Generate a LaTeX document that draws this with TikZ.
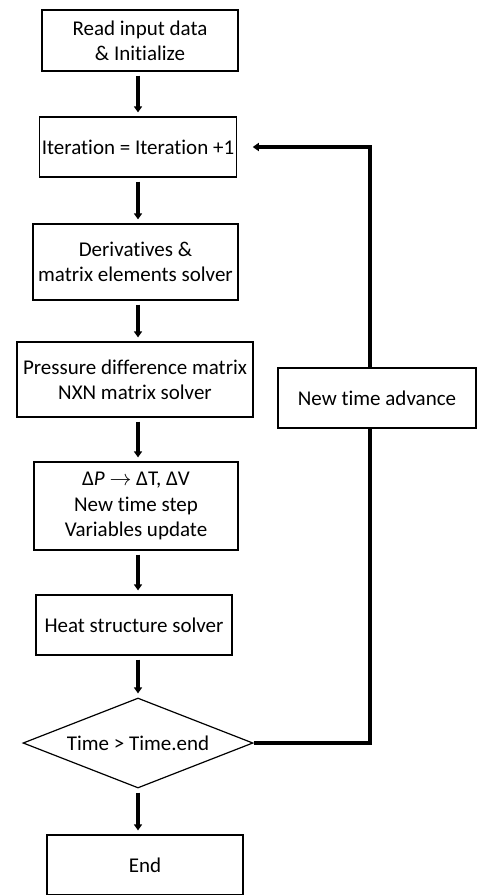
\documentclass[tikz,border=0pt]{standalone}
\usepackage{amsmath}
\usepackage{fontspec}
\setmainfont{Carlito}[Ligatures=NoCommon]
\usetikzlibrary{shapes.geometric,arrows.meta}

\begin{document}
\begin{tikzpicture}[x=0.5pt,y=-0.5pt,
  box/.style={draw,line width=0.6pt,align=center,inner sep=1pt,font=\fontsize{10.5}{12.6}\selectfont},
  decision/.style={draw,diamond,line width=0.6pt,inner sep=0pt,aspect=2.55,font=\fontsize{10.5}{12.6}\selectfont},
  flow/.style={line width=1.6pt,-{Triangle[length=3pt,width=4pt]},shorten <=2pt,shorten >=2pt},
  back/.style={line width=1.6pt}]
  \useasboundingbox (0,0) rectangle (481,895);
  \coordinate (spine) at (138,0);
  \coordinate (turn) at (370,0);
  \node[box,minimum width=98pt,minimum height=30.5pt] (read) at (140,40.5) {Read input data\\ \& Initialize};
  \node[box,minimum width=98pt,minimum height=30pt] (iter) at (138,147) {Iteration = Iteration +1};
  \node[box,minimum width=102.5pt,minimum height=38pt] (deriv) at (135.5,262) {Derivatives \&\\ matrix elements solver};
  \node[box,minimum width=118pt,minimum height=37.5pt] (press) at (135,379.5) {Pressure difference matrix\\ NXN matrix solver};
  \node[box,minimum width=102pt,minimum height=44pt] (update) at (136,506) {Δ\textit{P} $\rightarrow$ ΔT, ΔV\\ New time step\\ Variables update};
  \node[box,minimum width=98pt,minimum height=30pt] (heat) at (134,625) {Heat structure solver};
  \node[decision,minimum width=115pt,minimum height=45pt] (check) at (138,743) {Time > Time.end};
  \node[box,minimum width=98pt,minimum height=30pt] (stop) at (145,865) {End};
  \node[box,minimum width=99pt,minimum height=30pt] (advance) at (377,398) {New time advance};
  \draw[flow] (read.south -| spine) -- (iter.north -| spine);
  \draw[flow] (iter.south -| spine) -- (deriv.north -| spine);
  \draw[flow] (deriv.south -| spine) -- (press.north -| spine);
  \draw[flow] (press.south -| spine) -- (update.north -| spine);
  \draw[flow] (update.south -| spine) -- (heat.north -| spine);
  \draw[flow] (heat.south -| spine) -- (check.north);
  \draw[flow] (check.south) -- (stop.north -| spine);
  % loop back
  \draw[back] (check.east) -| (turn |- advance.south);
  \draw[back,-{Triangle[length=3pt,width=4pt]},shorten >=8pt] (turn |- advance.north) |- (iter.east);
\end{tikzpicture}
\end{document}
